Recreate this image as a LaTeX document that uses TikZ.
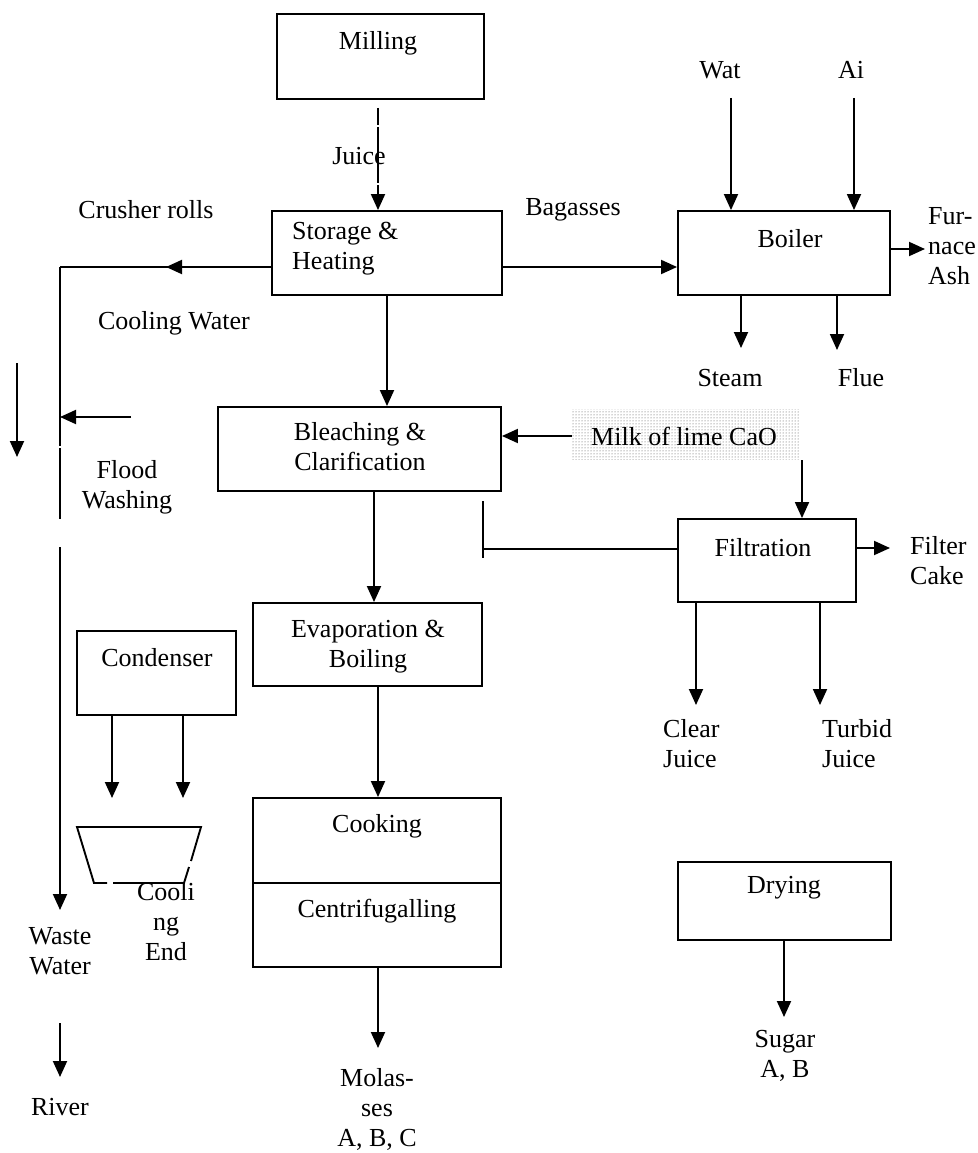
\documentclass[tikz,border=0pt]{standalone}
\usepackage{fontspec}
\setmainfont{Liberation Serif}
\usetikzlibrary{arrows.meta,patterns}
\begin{document}
\begin{tikzpicture}[x=1pt,y=-1pt,
  box/.style={draw,line width=1.9pt,inner sep=0pt},
  txt/.style={font=\fontsize{26}{30}\selectfont,inner sep=0pt,align=center},
  ltxt/.style={font=\fontsize{26}{30}\selectfont,inner sep=0pt,align=left,anchor=west},
  flow/.style={line width=1.9pt,-{Triangle[length=16pt,width=14pt]}},
  pipe/.style={line width=1.9pt}]
\useasboundingbox[fill=white] (0,0) rectangle (977,1153);

% boxes
\node[box,minimum width=207pt,minimum height=85pt] (mill) at (380.5,56.5) {};
\node[box,minimum width=230pt,minimum height=84pt] (stor) at (387,253) {};
\node[box,minimum width=212pt,minimum height=84pt] (boil) at (784,253) {};
\node[box,minimum width=283pt,minimum height=84pt] (blea) at (359.5,449) {};
\node[draw=none,pattern=dots,pattern color=black!70,minimum width=228pt,minimum height=50pt,inner sep=0pt] (milk) at (686,434.5) {};
\node[box,minimum width=178pt,minimum height=83pt] (filt) at (767,560.5) {};
\node[box,minimum width=229pt,minimum height=83pt] (evap) at (367.5,644.5) {};
\node[box,minimum width=159pt,minimum height=84pt] (cond) at (156.5,673) {};
\node[box,minimum width=248pt,minimum height=85pt] (cook) at (377,840.5) {};
\node[box,minimum width=248pt,minimum height=84pt] (cent) at (377,925) {};
\node[box,minimum width=213pt,minimum height=78pt] (dry) at (784.5,901) {};

% trapezoid (with the small breaks of the original)
\coordinate (tz1) at (77,827);
\coordinate (tz2) at (201,827);
\coordinate (tz3) at (184,883);
\coordinate (tz4) at (94,883);
\coordinate (tzg1) at (107,883);
\coordinate (tzg2) at (113,883);
\coordinate (tzr1) at (191,861);
\coordinate (tzr2) at (189,867);
\draw[pipe,line join=miter] (tzg1) -- (tz4) -- (tz1) -- (tz2) -- (tzr1);
\draw[pipe] (tzr2) -- (tz3) -- (tzg2);

% box texts
\node[txt] (millt) at (378,43) {Milling};
\node[ltxt] (stort) at (292,249) {Storage \&\\Heating};
\node[txt] (boilt) at (790,239) {Boiler};
\node[txt] (bleat) at (360,447) {Bleaching \&\\Clarification};
\node[txt] (milkt) at (684,436) {Milk of lime CaO};
\node[txt] (filtt) at (763,548) {Filtration};
\node[txt] (evapt) at (368,647) {Evaporation \&\\Boiling};
\node[txt] (condt) at (157,658) {Condenser};
\node[txt] (cookt) at (377,826) {Cooking};
\node[txt] (centt) at (377,911) {Centrifugalling};
\node[txt] (dryt) at (784,888) {Drying};

% free labels
\node[txt] (juice) at (359,156) {Juice};
\node[txt] (crush) at (146,210) {Crusher rolls};
\node[txt] (baga) at (573,210) {Bagasses};
\node[txt] (wat) at (720,70) {Wat};
\node[txt] (ai) at (851,70) {Ai};
\node[ltxt] (furn) at (928,246) {Fur-\\nace\\Ash};
\node[txt] (steam) at (730,378) {Steam};
\node[txt] (flue) at (861,378) {Flue};
\node[txt] (coolw) at (174,323) {Cooling Water};
\node[txt] (flood) at (127,487) {Flood\\Washing};
\node[ltxt] (fcake) at (910,561) {Filter\\Cake};
\node[ltxt] (clear) at (663,744) {Clear\\Juice};
\node[ltxt] (turb) at (822,744) {Turbid\\Juice};
\node[txt] (coole) at (166,922) {Cooli\\ng\\End};
\node[txt] (waste) at (60,951) {Waste\\Water};
\node[txt] (river) at (60,1107) {River};
\node[txt] (molas) at (377,1109) {Molas-\\ses\\A, B, C};
\node[txt] (sugar) at (785,1056) {Sugar\\A, B};

% connectors
\coordinate (jtop) at (378,108);
\draw[flow,dash pattern=on 17pt off 2pt on 56pt off 2pt on 60pt] (jtop) -- (jtop |- stor.north);
\draw[flow] (stor.east |- 0,267) -- (boil.west |- 0,267);
\coordinate (wtop) at (731,98);
\coordinate (atop) at (854,98);
\draw[flow] (wtop) -- (wtop |- boil.north);
\draw[flow] (atop) -- (atop |- boil.north);
\coordinate (ashend) at (925,249);
\draw[flow] (boil.east |- ashend) -- (ashend);
\coordinate (steamend) at (741,348);
\coordinate (flueend) at (837,350);
\draw[flow] (steamend |- boil.south) -- (steamend);
\draw[flow] (flueend |- boil.south) -- (flueend);
\draw[flow] (stor.south) -- (stor.south |- blea.north);
\draw[flow] (milk.west |- 0,436) -- (blea.east |- 0,436);
\coordinate (mf) at (802,460);
\draw[flow] (mf) -- (mf |- filt.north);
\coordinate (tbar) at (483,549);
\draw[pipe] (filt.west |- tbar) -- (tbar);
\coordinate (tbartop) at (483,501);
\coordinate (tbarbot) at (483,558);
\draw[pipe] (tbartop) -- (tbarbot);
\coordinate (fcend) at (890,548);
\draw[flow] (filt.east |- fcend) -- (fcend);
\coordinate (clearend) at (696,705);
\coordinate (turbend) at (820,705);
\draw[flow] (clearend |- filt.south) -- (clearend);
\draw[flow] (turbend |- filt.south) -- (turbend);
\coordinate (be) at (374,491);
\draw[flow] (be) -- (be |- evap.north);
\coordinate (ec) at (378,686);
\draw[flow] (ec) -- (ec |- cook.north);
\coordinate (molend) at (378,1048);
\draw[flow] (molend |- cent.south) -- (molend);
\coordinate (sugend) at (784,1017);
\draw[flow] (sugend |- dry.south) -- (sugend);
\coordinate (c1) at (112,798);
\coordinate (c2) at (183,798);
\draw[flow] (c1 |- cond.south) -- (c1);
\draw[flow] (c2 |- cond.south) -- (c2);

% cooling water line
\coordinate (cwc) at (60,267);
\coordinate (cwmid) at (166,267);
\draw[pipe] (cwc -| stor.west) -- (cwc);
\draw[flow] (cwc -| stor.west) -- (cwmid);
\coordinate (g1a) at (60,446);
\coordinate (g1b) at (60,448);
\coordinate (g2a) at (60,519);
\coordinate (g2b) at (60,547);
\coordinate (wend) at (60,910);
\draw[pipe] (cwc) -- (g1a);
\draw[pipe] (g1b) -- (g2a);
\draw[flow] (g2b) -- (wend);
\coordinate (fl) at (131,417);
\draw[flow] (fl) -- (fl -| cwc);
\coordinate (la1) at (17,363);
\coordinate (la2) at (17,457);
\draw[flow] (la1) -- (la2);
\coordinate (rv1) at (60,1023);
\coordinate (rv2) at (60,1077);
\draw[flow] (rv1) -- (rv2);
\end{tikzpicture}
\end{document}
